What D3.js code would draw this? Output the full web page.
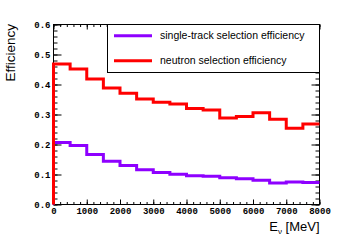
<!DOCTYPE html>
<html><head><meta charset="utf-8">
<script src="https://cdn.jsdelivr.net/npm/d3@7"></script>
<style>body{margin:0;background:#fff}svg{display:block}</style>
</head><body>
<script>
const binEdges = [0,500,1000,1500,2000,2500,3000,3500,4000,4500,5000,5500,6000,6500,7000,7500];
const neutronEff = [0.468,0.452,0.418,0.388,0.371,0.352,0.341,0.335,0.320,0.315,0.288,0.293,0.306,0.284,0.254,0.268];
const singleTrackEff = [0.207,0.197,0.167,0.144,0.130,0.116,0.107,0.101,0.096,0.094,0.089,0.086,0.081,0.072,0.075,0.073];
const xTicks = [0,1000,2000,3000,4000,5000,6000,7000,8000];
const yTicks = [0,0.1,0.2,0.3,0.4,0.5,0.6];
const legendLabels = ["single-track selection efficiency","neutron selection efficiency"];

const W=355,H=242;
const svg=d3.select("body").append("svg").attr("width",W).attr("height",H);
const L=53.5,R=319.5,T=24.5,B=204.5;
const x=d3.scaleLinear().domain([0,8000]).range([L,R]);
const y=d3.scaleLinear().domain([0,0.6]).range([B,T]);
const monoFont="'Liberation Mono', 'DejaVu Sans Mono', monospace";
const sansFont="'Liberation Sans', Arial, sans-serif";

// frame
svg.append("rect").attr("x",L).attr("y",T).attr("width",R-L).attr("height",B-T)
  .attr("fill","none").attr("stroke","#000").attr("stroke-width",1);

const xMinor=d3.range(0,8001,200);
const yMinor=d3.range(0,0.6001,0.02);
function axisG(axis){const g=svg.append("g").call(axis);g.select(".domain").remove();
  g.selectAll("line").attr("stroke","#000");return g;}
// bottom
let g=axisG(d3.axisBottom(x).tickValues(xMinor).tickSize(-2.5).tickFormat(""));g.attr("transform",`translate(0,${B})`);
g=axisG(d3.axisBottom(x).tickValues(xTicks).tickSize(-5).tickPadding(3.5).tickFormat(d3.format("d")));g.attr("transform",`translate(0,${B})`);
g.selectAll("text").attr("font-family",monoFont).attr("font-weight","bold").attr("font-size",9).attr("fill","#000");
// top
g=axisG(d3.axisTop(x).tickValues(xMinor).tickSize(-2.5).tickFormat(""));g.attr("transform",`translate(0,${T})`);
g=axisG(d3.axisTop(x).tickValues(xTicks).tickSize(-5).tickFormat(""));g.attr("transform",`translate(0,${T})`);
// left
g=axisG(d3.axisLeft(y).tickValues(yMinor).tickSize(-4).tickFormat(""));g.attr("transform",`translate(${L},0)`);
g=axisG(d3.axisLeft(y).tickValues(yTicks).tickSize(-8).tickPadding(3).tickFormat(d3.format(".1f")));g.attr("transform",`translate(${L},0)`);
g.selectAll("text").attr("font-family",monoFont).attr("font-weight","bold").attr("font-size",9).attr("fill","#000");
// right
g=axisG(d3.axisRight(y).tickValues(yMinor).tickSize(-4).tickFormat(""));g.attr("transform",`translate(${R},0)`);
g=axisG(d3.axisRight(y).tickValues(yTicks).tickSize(-8).tickFormat(""));g.attr("transform",`translate(${R},0)`);

// histograms
const line=d3.line().x(d=>x(d[0])).y(d=>y(d[1])).curve(d3.curveStepAfter);
function hist(vals,color){
  const pts=[[0,0]].concat(binEdges.map((e,i)=>[e,vals[i]]));
  pts.push([8000,vals[vals.length-1]]);
  svg.append("path").attr("d",line(pts)).attr("fill","none").attr("stroke",color).attr("stroke-width",3);
}
const colors=["#8e00ff","#ff0000"];
hist(singleTrackEff,colors[0]);
hist(neutronEff,colors[1]);

// legend
svg.append("rect").attr("x",107.5).attr("y",T).attr("width",R-107.5).attr("height",72.5-T)
  .attr("fill","#fff").attr("stroke","#000").attr("stroke-width",1);
const legY=[35.7,60.7];
legendLabels.forEach((t,i)=>{
  svg.append("line").attr("x1",114).attr("x2",152).attr("y1",legY[i]).attr("y2",legY[i])
    .attr("stroke",colors[i]).attr("stroke-width",3);
  svg.append("text").attr("x",160).attr("y",legY[i]).attr("dy","0.35em")
    .attr("font-family",sansFont).attr("font-size",10.5).attr("fill","#000").text(t);
});

// axis titles
svg.append("text").attr("transform","translate(15,24) rotate(-90)").attr("text-anchor","end")
  .attr("font-family",sansFont).attr("font-size",13.5).attr("fill","#000").text("Efficiency");
const xt=svg.append("text").attr("x",R).attr("y",231).attr("text-anchor","end")
  .attr("font-family",sansFont).attr("font-size",13).attr("fill","#000");
xt.append("tspan").text("E");
xt.append("tspan").attr("font-size",8).attr("dy",2.5).text("ν");
xt.append("tspan").attr("dy",-2.5).text(" [MeV]");
</script>
</body></html>
